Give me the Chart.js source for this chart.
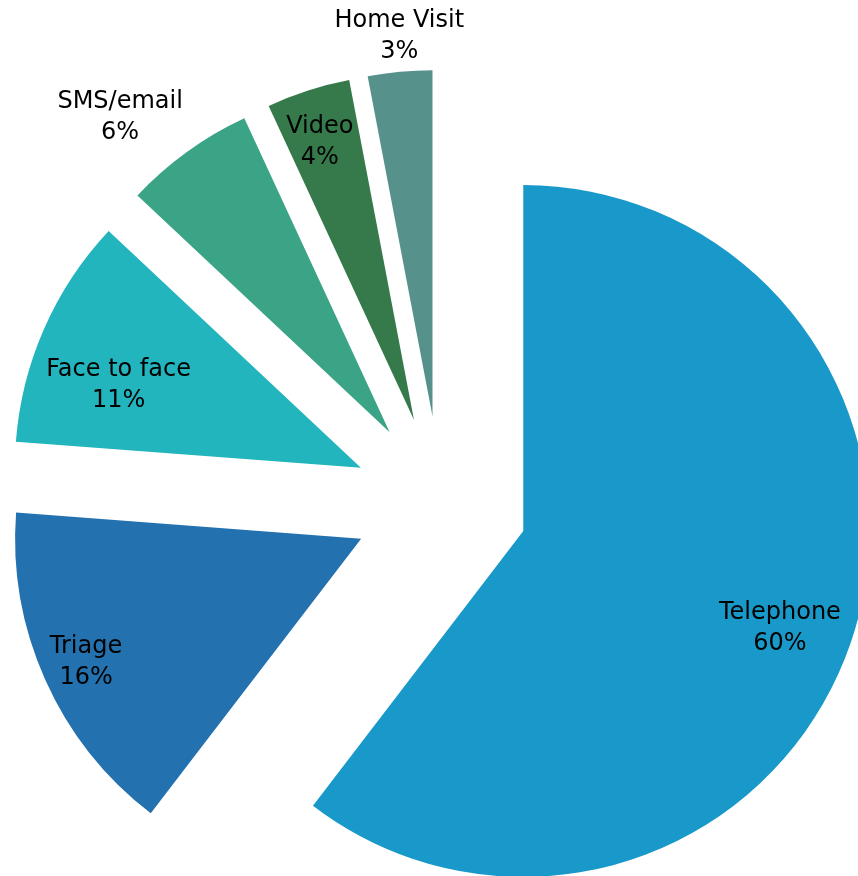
<!DOCTYPE html>
<html>
<head>
<meta charset="utf-8">
<script src="https://cdn.jsdelivr.net/npm/chart.js@4/dist/chart.umd.min.js"></script>
<style>
  html, body { margin: 0; padding: 0; background: #ffffff; }
  #wrap { width: 858px; height: 876px; position: relative; }
</style>
</head>
<body>
<div id="wrap"><canvas id="c" width="858" height="876"></canvas></div>
<script>
// ---- data ----
const categories = ["Telephone", "Triage", "Face to face", "SMS/email", "Video", "Home Visit"];
const shares = [60.4, 15.8, 10.8, 6.1, 3.9, 3.0];   // % of consultations (labels show rounded values)
const percentLabels = shares.map(v => Math.round(v) + "%");

// ---- style / layout ----
const sliceColors = ["#1999C9", "#2371AE", "#23B5BD", "#3BA486", "#367A4C", "#56918C"];
const explode = 87.2;        // px each slice is pulled out along its mid angle
const pieRadius = 346;
const labelRadius = [0.793, 0.871, 0.740, 1.199, 0.848, 1.103];
const labelAngleShift = [2.0, 0.0, -4.9, -4.7, -0.9, 0.4];   // degrees
const labelFont = '24px "DejaVu Sans", sans-serif';
const lineGap = 31;

const explodePlugin = {
  id: 'explode',
  afterDatasetsUpdate(chart) {
    const meta = chart.getDatasetMeta(0);
    meta.data.forEach(arc => {
      const mid = (arc.startAngle + arc.endAngle) / 2;
      arc.x += Math.cos(mid) * explode;
      arc.y += Math.sin(mid) * explode;
    });
  }
};

const labelPlugin = {
  id: 'sliceLabels',
  afterDatasetsDraw(chart) {
    const ctx = chart.ctx;
    const meta = chart.getDatasetMeta(0);
    ctx.save();
    ctx.font = labelFont;
    ctx.fillStyle = '#000000';
    ctx.textAlign = 'center';
    ctx.textBaseline = 'middle';
    meta.data.forEach((arc, i) => {
      const mid = (arc.startAngle + arc.endAngle) / 2 + labelAngleShift[i] * Math.PI / 180;
      const r = arc.outerRadius * labelRadius[i];
      const x = arc.x + Math.cos(mid) * r;
      const y = arc.y + Math.sin(mid) * r;
      ctx.fillText(categories[i], x, y - lineGap / 2);
      ctx.fillText(percentLabels[i], x, y + lineGap / 2);
    });
    ctx.restore();
  }
};

new Chart(document.getElementById('c'), {
  type: 'pie',
  data: {
    labels: categories,
    datasets: [{
      data: shares,
      backgroundColor: sliceColors,
      borderWidth: 0,
      radius: pieRadius,
      clip: false
    }]
  },
  options: {
    responsive: false,
    animation: false,
    events: [],
    layout: { padding: { left: 23.4, right: 0, top: 130, bottom: 0 } },
    plugins: {
      legend: { display: false },
      tooltip: { enabled: false },
      title: { display: false }
    }
  },
  plugins: [explodePlugin, labelPlugin]
});
</script>
</body>
</html>
